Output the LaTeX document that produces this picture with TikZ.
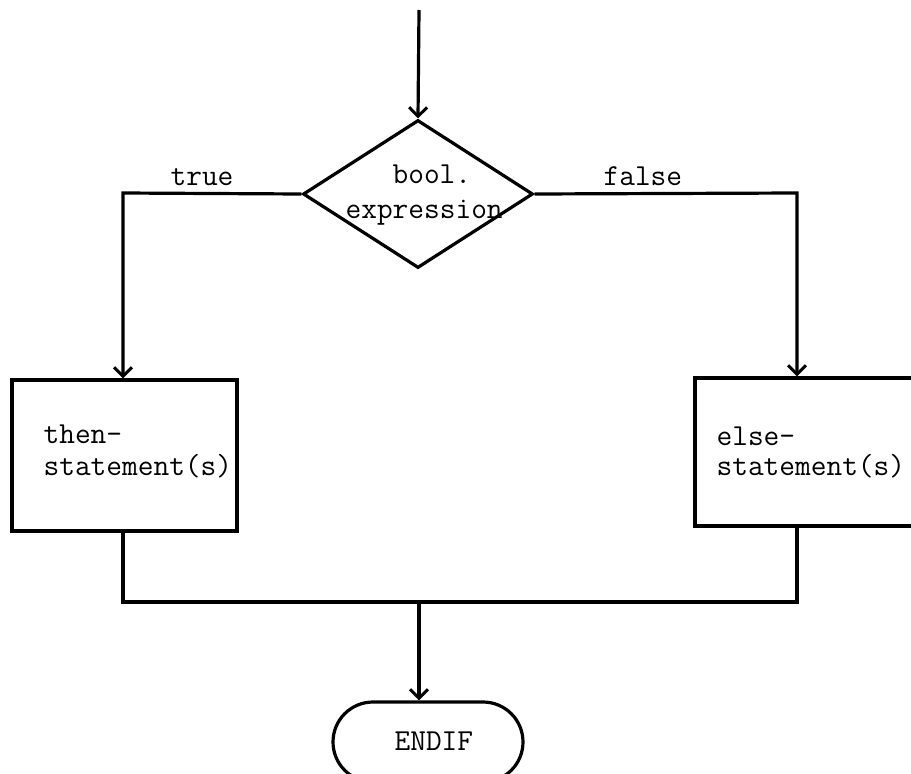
\documentclass[tikz,border=0pt]{standalone}
\usetikzlibrary{shapes.geometric,shapes.misc,arrows.meta}
\begin{document}
\begin{tikzpicture}[x=1pt,y=-1pt,
  line width=3.2pt,
  flow/.style={-{Straight Barb[length=9pt,width=18pt,line width=3pt]}},
  lbl/.style={font=\ttfamily\fontsize{30.5}{34}\selectfont, anchor=base west, inner sep=0pt},
  boxshape/.style={draw, rectangle, inner sep=0pt},
  decision/.style={draw, diamond, inner sep=0pt, minimum width=230pt, minimum height=148pt},
  terminal/.style={draw, rounded rectangle, inner sep=0pt, minimum width=190pt, minimum height=80pt}]
\useasboundingbox (0,0) rectangle (911,774);

\coordinate (start) at (419,10);
\node[decision] (d) at (418,194) {};
\node[lbl] (tb) at (391,183) {bool.};
\node[lbl] (te) at (344,218) {expression};

\node[boxshape, minimum width=225pt, minimum height=151pt] (tbox) at (124.5,455.5) {};
\node[lbl] (t1) at (42,443) {then-};
\node[lbl] (t2) at (42,475) {statement(s)};

\node[boxshape, minimum width=222pt, minimum height=148pt] (ebox) at (806,452) {};
\node[lbl] (e1) at (715,445) {else-};
\node[lbl] (e2) at (715,475) {statement(s)};

\node[terminal] (end) at (428,742) {};
\node[lbl] (endt) at (393,750) {ENDIF};

\coordinate (tl) at (123,193);
\coordinate (fr) at (797,193);
\coordinate (bl) at (123,602);
\coordinate (br) at (797,602);
\coordinate (join) at (419,602);

\node[lbl] (true) at (169,185) {true};
\node[lbl] (false) at (602,185) {false};

\draw[flow] (start) -- (d.north);
\draw[flow] (d.west) -- (tl) -- (tl |- tbox.north);
\draw[flow] (d.east) -- (fr) -- (fr |- ebox.north);
\draw (tbox.south -| bl) -- (bl) -- (br) -- (ebox.south -| br);
\draw[flow] (join) -- (join |- end.north);
\end{tikzpicture}
\end{document}
